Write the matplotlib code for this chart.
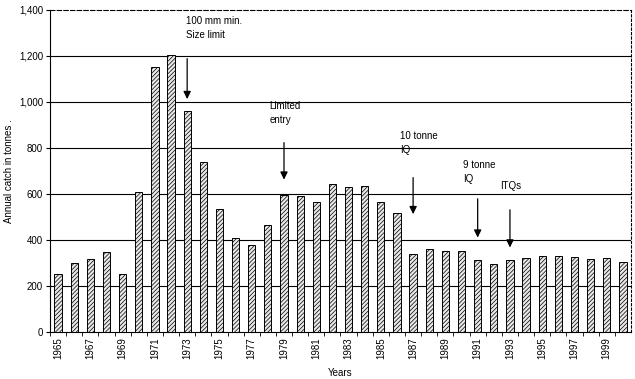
import matplotlib
matplotlib.use('Agg')
import matplotlib.pyplot as plt

years = list(range(1965, 2001))
catch = [250, 300, 317, 348, 250, 610, 1150, 1205, 960, 740,
         535, 410, 380, 465, 595, 590, 565, 645, 630, 635,
         565, 515, 340, 360, 350, 350, 315, 295, 313, 320,
         330, 330, 325, 317, 320, 305]

# (label, year of arrow, text x index, text top, arrow start, arrow end)
events = [
    ("100 mm min.\nSize limit", 1973, 7.9, 1375, 1200, 1000),
    ("Limited\nentry", 1979, 13.1, 1005, 835, 650),
    ("10 tonne\nIQ", 1987, 21.2, 875, 683, 500),
    ("9 tonne\nIQ", 1991, 25.1, 748, 591, 398),
    ("ITQs", 1993, 27.4, 655, 543, 355),
]

plt.rcParams['font.family'] = ['Liberation Sans', 'DejaVu Sans']
plt.rcParams['hatch.linewidth'] = 0.5

fig = plt.figure(figsize=(6.35, 3.79), dpi=100)
ax = fig.add_axes([0.0787, 0.124, 0.915, 0.85])

x = list(range(len(years)))
ax.bar(x, catch, width=0.45, color='#e8e8e8', edgecolor='black', linewidth=0.7,
       hatch='////////', zorder=3)

ax.set_xlim(-0.5, len(years) - 0.5)
ax.set_ylim(0, 1400)
ax.set_yticks(range(0, 1401, 200))
ax.set_yticklabels([f"{v:,}" for v in range(0, 1401, 200)], fontsize=7)
for v in range(200, 1201, 200):
    ax.axhline(v, color='black', linewidth=0.8, zorder=1)

ax.set_xticks([i - 0.5 for i in x], minor=True)
ax.set_xticks(x[::2])
ax.set_xticklabels([str(y) for y in years[::2]], rotation=90, fontsize=7)
ax.tick_params(axis='x', which='major', length=0, pad=4)
ax.tick_params(axis='x', which='minor', length=3)
ax.tick_params(axis='y', length=3, pad=2)

ax.spines['top'].set_linestyle((0, (4, 2)))
ax.spines['right'].set_linestyle((0, (2, 2)))
ax.spines['top'].set_linewidth(0.8)
ax.spines['right'].set_linewidth(0.8)

for label, yr, tx, ty, a0, a1 in events:
    xi = years.index(yr)
    ax.text(tx, ty, label, fontsize=7, va='top', ha='left', linespacing=1.5)
    ax.annotate('', xy=(xi, a1), xytext=(xi, a0),
                arrowprops=dict(arrowstyle='-|>,head_width=0.22,head_length=0.45',
                                color='black', lw=0.9), zorder=4)

ax.set_xlabel("Years", fontsize=7, labelpad=6)
ax.set_ylabel("Annual catch in tonnes .", fontsize=7, va='center')
ax.yaxis.set_label_coords(-0.071, 0.5)

plt.savefig('out.png', dpi=100)
